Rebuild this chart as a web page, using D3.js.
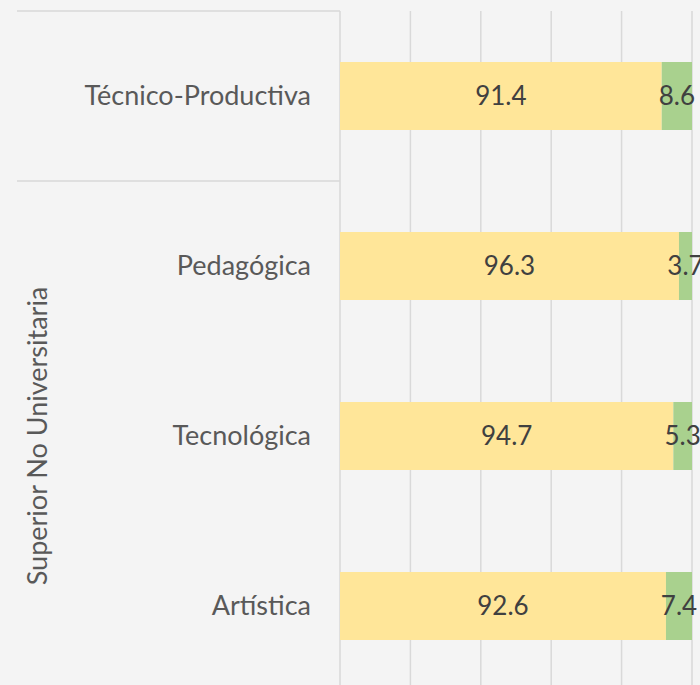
<!DOCTYPE html>
<html>
<head>
<meta charset="utf-8">
<script src="https://cdn.jsdelivr.net/npm/d3@7"></script>
<style>
  body { margin: 0; background: #f4f4f4; }
  svg { display: block; font-family: Lato, "Open Sans", sans-serif; }
</style>
</head>
<body>
<svg id="chart" width="700" height="685"></svg>
<script>
const categories = ['Técnico-Productiva', 'Pedagógica', 'Tecnológica', 'Artística'];
const groupLabel = 'Superior No Universitaria';
const yesValues = [91.4, 96.3, 94.7, 92.6];
const noValues = [8.6, 3.7, 5.3, 7.4];
const xTicks = [0, 20, 40, 60, 80, 100];

const colors = { yes: '#ffe699', no: '#a9d18e' };
const gridColor = '#d9d9d9';

const margin = { top: 11, left: 340 };
const plotWidth = 352;
const plotHeight = 680;

const svg = d3.select('#chart');
svg.append('rect').attr('width', 700).attr('height', 685).attr('fill', '#f4f4f4');

const chart = svg.append('g').attr('transform', `translate(${margin.left},${margin.top})`);

const xScale = d3.scaleLinear().domain([0, 100]).range([0, plotWidth]);
const yScale = d3.scaleBand().domain(categories).range([0, plotHeight]).paddingInner(0.6).paddingOuter(0.3);

// vertical gridlines
chart.append('g')
  .selectAll('line')
  .data(xTicks)
  .join('line')
  .attr('x1', (d) => xScale(d))
  .attr('x2', (d) => xScale(d))
  .attr('y1', 0)
  .attr('y2', plotHeight)
  .attr('stroke', gridColor)
  .attr('stroke-width', 1.5);

const rows = categories.map((c, i) => ({ cat: c, yes: yesValues[i], no: noValues[i] }));

const row = chart.selectAll('.row').data(rows).join('g').attr('class', 'row');

row.append('rect')
  .attr('x', xScale(0))
  .attr('y', (d) => yScale(d.cat))
  .attr('width', (d) => xScale(d.yes) - xScale(0))
  .attr('height', yScale.bandwidth())
  .attr('fill', colors.yes);

row.append('rect')
  .attr('x', (d) => xScale(d.yes))
  .attr('y', (d) => yScale(d.cat))
  .attr('width', (d) => xScale(d.yes + d.no) - xScale(d.yes))
  .attr('height', yScale.bandwidth())
  .attr('fill', colors.no);

row.append('text')
  .attr('x', (d) => xScale(d.yes / 2))
  .attr('y', (d) => yScale(d.cat) + yScale.bandwidth() / 2)
  .attr('dy', '0.35em')
  .attr('text-anchor', 'middle')
  .attr('font-size', 26)
  .attr('fill', '#404040')
  .text((d) => d.yes.toFixed(1));

row.append('text')
  .attr('x', (d) => xScale(d.yes + d.no / 2))
  .attr('y', (d) => yScale(d.cat) + yScale.bandwidth() / 2)
  .attr('dy', '0.35em')
  .attr('text-anchor', 'middle')
  .attr('font-size', 26)
  .attr('fill', '#404040')
  .text((d) => d.no.toFixed(1));

// category axis with group brackets
const step = yScale.step();
const axisG = chart.append('g');

axisG.selectAll('.cat-label')
  .data(categories)
  .join('text')
  .attr('class', 'cat-label')
  .attr('x', -29)
  .attr('y', (d) => yScale(d) + yScale.bandwidth() / 2)
  .attr('dy', '0.35em')
  .attr('text-anchor', 'end')
  .attr('font-size', 27)
  .attr('fill', '#595959')
  .text((d) => d);

// horizontal separators: top and between first category and group
axisG.selectAll('.sep')
  .data([0, step])
  .join('line')
  .attr('x1', 17 - margin.left)
  .attr('x2', 0)
  .attr('y1', (d) => d)
  .attr('y2', (d) => d)
  .attr('stroke', gridColor)
  .attr('stroke-width', 1.5);

const groupMid = (step + plotHeight) / 2;
axisG.append('text')
  .attr('transform', `translate(${38 - margin.left},${groupMid}) rotate(-90)`)
  .attr('dy', '0.35em')
  .attr('text-anchor', 'middle')
  .attr('font-size', 27)
  .attr('fill', '#595959')
  .text(groupLabel);
</script>
</body>
</html>
